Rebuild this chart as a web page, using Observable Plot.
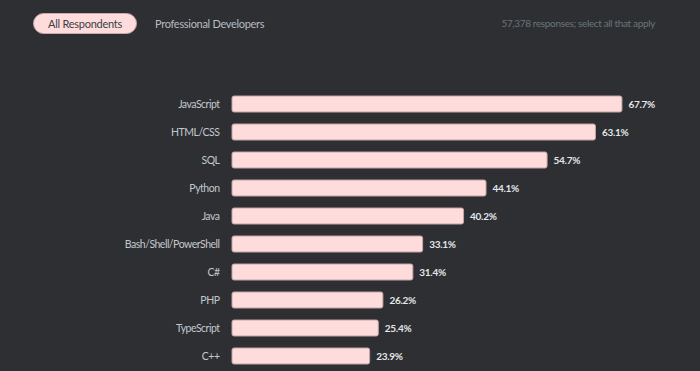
<!DOCTYPE html>
<html>
<head>
<meta charset="utf-8">
<script src="https://cdn.jsdelivr.net/npm/d3@7"></script>
<script src="https://cdn.jsdelivr.net/npm/@observablehq/plot@0.6"></script>
<style>
  html, body { margin: 0; padding: 0; background: #2d2f33; width: 700px; height: 371px; overflow: hidden; font-family: Lato, "Open Sans", sans-serif; }
  #wrap { position: relative; width: 700px; height: 371px; }
  .pill { position: absolute; left: 33px; top: 13px; width: 102px; height: 19px; border-radius: 11px; background: #ffdcdc; border: 1px solid #c9a9a9; color: #3b4045; font-size: 11px; letter-spacing: -0.25px; line-height: 19px; text-align: center; }
  .tab2 { position: absolute; left: 155px; top: 13px; height: 21px; line-height: 21px; color: #b7bcc1; font-size: 11px; letter-spacing: -0.3px; }
  .note { position: absolute; right: 45px; top: 13px; height: 21px; line-height: 21px; color: #6b737b; font-size: 10px; letter-spacing: -0.35px; }
  #chart { position: absolute; left: 0; top: 80px; }
  #chart g[aria-label="y-axis tick label"] text { letter-spacing: -0.5px; }
  #chart g[aria-label="text"] text { letter-spacing: -0.3px; }
</style>
</head>
<body>
<div id="wrap">
  <div class="pill">All Respondents</div>
  <div class="tab2">Professional Developers</div>
  <div class="note">57,378 responses; select all that apply</div>
  <div id="chart"></div>
</div>
<script>
const languages = ["JavaScript", "HTML/CSS", "SQL", "Python", "Java", "Bash/Shell/PowerShell", "C#", "PHP", "TypeScript", "C++"];
const percents = [67.7, 63.1, 54.7, 44.1, 40.2, 33.1, 31.4, 26.2, 25.4, 23.9];
const data = languages.map((name, i) => ({name, value: percents[i]}));

const chart = Plot.plot({
  width: 700,
  height: 297,
  marginLeft: 232,
  marginRight: 7.2,
  marginTop: 4,
  marginBottom: 0,
  style: {background: "transparent", fontFamily: "Lato, 'Open Sans', sans-serif"},
  x: {domain: [0, 80], axis: null},
  y: {domain: languages, padding: 0.42, label: null},
  marks: [
    Plot.axisY({tickSize: 0, tickPadding: 13, fontSize: 10.5, color: "#c3c8cd", label: null}),
    Plot.barX(data, {x: "value", y: "name", fill: "#ffdcdc", stroke: "#c4a3a3", strokeWidth: 1, rx: 2}),
    Plot.text(data, {x: "value", y: "name", text: d => `${d.value}%`, dx: 6, textAnchor: "start", fill: "#e4e6e8", fontWeight: "bold", fontSize: 10})
  ]
});
document.getElementById("chart").appendChild(chart);
</script>
</body>
</html>
